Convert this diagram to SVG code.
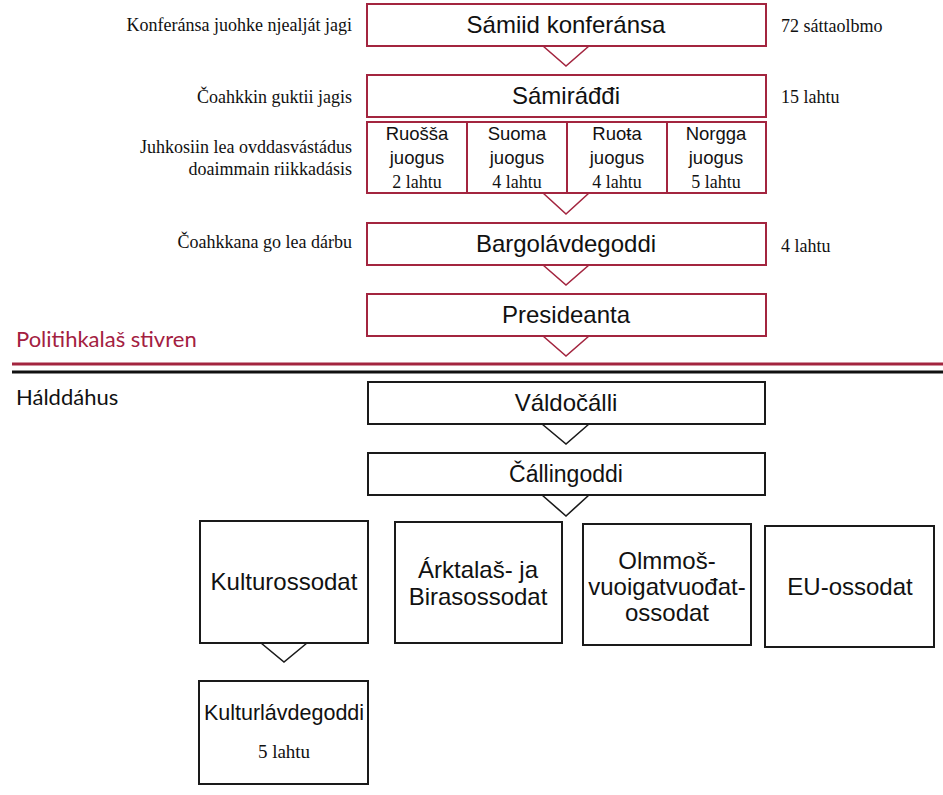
<svg xmlns="http://www.w3.org/2000/svg" width="943" height="795" viewBox="0 0 943 795">
<style>
.rb{fill:#fff;stroke:#a3253f;stroke-width:2}
.bb{fill:#fff;stroke:#1a1a1a;stroke-width:2}
.rt{fill:none;stroke:#a3253f;stroke-width:1.6}
.bt{fill:none;stroke:#1a1a1a;stroke-width:1.6}
.t{font-family:"Liberation Sans",Arial,sans-serif;font-size:24px;fill:#111;text-anchor:middle}
.tb{font-size:23px}
.ts{font-family:"Liberation Sans",Arial,sans-serif;font-size:18.5px;fill:#111;text-anchor:middle}
.tl{font-family:"Liberation Sans",Arial,sans-serif;font-size:24px;fill:#111;text-anchor:middle}
.s{font-family:"Liberation Serif","Times New Roman",serif;font-size:18px;fill:#111}
.r{text-anchor:end}
.m{text-anchor:middle}
.h{font-family:Lato,"Liberation Sans",sans-serif;font-size:22px}
</style>
<rect width="943" height="795" fill="#fff"/>
<g id="connectors">
<polyline class="rt" points="543,46 566,66 589,46"/>
<polyline class="rt" points="543,193 566,214 589,193"/>
<polyline class="rt" points="543,265 566,285 589,265"/>
<polyline class="rt" points="543,336 566,356 589,336"/>
<polyline class="bt" points="542,424 566,444 589,424"/>
<polyline class="bt" points="542,495 566,516 589,495"/>
<polyline class="bt" points="261,643 284,662 307,643"/>
</g>
<g id="divider">
<line x1="12" y1="364" x2="943" y2="364" stroke="#a3253f" stroke-width="3"/>
<line x1="12" y1="372" x2="943" y2="372" stroke="#111" stroke-width="3"/>
<text x="16" y="347" class="h" fill="#a3203f">Politihkalaš stivren</text>
<text x="16" y="405" class="h" fill="#111">Hálddáhus</text>
</g>
<g id="labels">
<text x="352" y="31" class="s r">Konferánsa juohke njealját jagi</text>
<text x="352" y="103" class="s r">Čoahkkin guktii jagis</text>
<text x="352" y="153" class="s r">Juhkosiin lea ovddasvástádus</text>
<text x="352" y="175" class="s r">doaimmain riikkadásis</text>
<text x="352" y="248" class="s r">Čoahkkana go lea dárbu</text>
<text x="781" y="32" class="s">72 sáttaolbmo</text>
<text x="781" y="103" class="s">15 lahtu</text>
<text x="781" y="252" class="s">4 lahtu</text>
</g>
<g id="n-konferansa">
<rect class="rb" x="367" y="4" width="399" height="42"/>
<text x="566" y="33" class="t">Sámiid konferánsa</text>
</g>
<g id="n-samiraddi">
<rect class="rb" x="367" y="75" width="399" height="42"/>
<text x="566" y="104" class="t">Sámiráđđi</text>
</g>
<g id="n-ruossa">
<rect class="rb" x="367" y="122" width="100" height="71"/>
<text x="417" y="140" class="ts">Ruošša</text>
<text x="417" y="164" class="ts">juogus</text>
<text x="417" y="188" class="s m">2 lahtu</text>
</g>
<g id="n-suoma">
<rect class="rb" x="467" y="122" width="100" height="71"/>
<text x="517" y="140" class="ts">Suoma</text>
<text x="517" y="164" class="ts">juogus</text>
<text x="517" y="188" class="s m">4 lahtu</text>
</g>
<g id="n-ruota">
<rect class="rb" x="567" y="122" width="100" height="71"/>
<text x="617" y="140" class="ts">Ruoŧa</text>
<text x="617" y="164" class="ts">juogus</text>
<text x="617" y="188" class="s m">4 lahtu</text>
</g>
<g id="n-norgga">
<rect class="rb" x="667" y="122" width="99" height="71"/>
<text x="716" y="140" class="ts">Norgga</text>
<text x="716" y="164" class="ts">juogus</text>
<text x="716" y="188" class="s m">5 lahtu</text>
</g>
<g id="n-bargolavdegoddi">
<rect class="rb" x="367" y="223" width="399" height="42"/>
<text x="566" y="252" class="t">Bargolávdegoddi</text>
</g>
<g id="n-presideanta">
<rect class="rb" x="367" y="294" width="399" height="42"/>
<text x="566" y="323" class="t">Presideanta</text>
</g>
<g id="n-valdocalli">
<rect class="bb" x="368" y="382" width="397" height="42"/>
<text x="566" y="411" class="t">Váldočálli</text>
</g>
<g id="n-callingoddi">
<rect class="bb" x="368" y="453" width="397" height="42"/>
<text x="566" y="482" class="t tb">Čállingoddi</text>
</g>
<g id="n-kulturossodat">
<rect class="bb" x="200" y="521" width="168" height="122"/>
<text x="284" y="590" class="tl">Kulturossodat</text>
</g>
<g id="n-arktalas">
<rect class="bb" x="395" y="522" width="167" height="121"/>
<text x="478" y="578" class="tl">Árktalaš- ja</text>
<text x="478" y="605" class="tl">Birasossodat</text>
</g>
<g id="n-olmmos">
<rect class="bb" x="583" y="524" width="168" height="121"/>
<text x="667" y="569" class="tl">Olmmoš-</text>
<text x="667" y="595" class="tl">vuoigatvuođat-</text>
<text x="667" y="621" class="tl">ossodat</text>
</g>
<g id="n-eu">
<rect class="bb" x="765" y="526" width="169" height="121"/>
<text x="850" y="595" class="tl">EU-ossodat</text>
</g>
<g id="n-kulturlavdegoddi">
<rect class="bb" x="199" y="681" width="169" height="103"/>
<text x="284" y="720" class="tl" style="font-size:21.5px">Kulturlávdegoddi</text>
<text x="284" y="758" class="s m" style="font-size:19px">5 lahtu</text>
</g>
</svg>
